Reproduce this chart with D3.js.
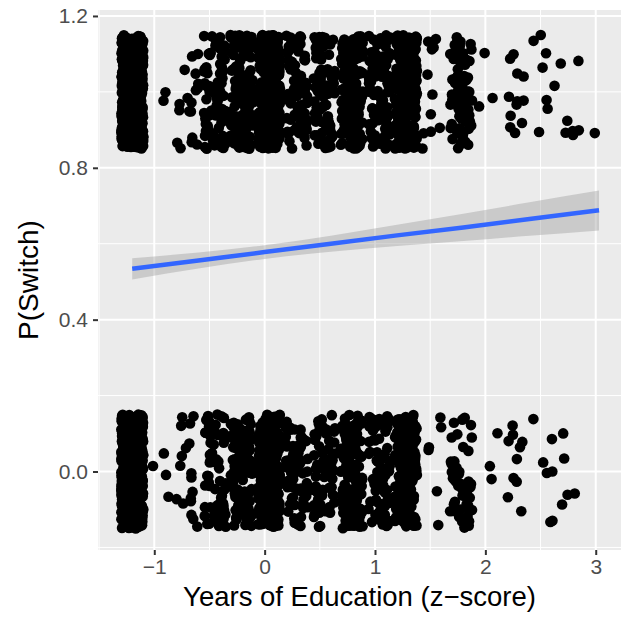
<!DOCTYPE html>
<html lang="en">
<head>
<meta charset="UTF-8" />
<title>P(Switch) vs Years of Education</title>
<script src="https://d3js.org/d3.v7.min.js"></script>
<style>
  html, body { margin: 0; padding: 0; background: #fff; }
  svg { display: block; font-family: "Liberation Sans", Arial, sans-serif; }
</style>
</head>
<body>
<svg width="621" height="624"></svg>
<script>
  // education levels (z-scored years of schooling, 0..17 years)
  const eduZ = [-1.20, -0.95, -0.70, -0.45, -0.21, 0.04, 0.29, 0.54, 0.79,
                1.04, 1.28, 1.53, 1.78, 2.03, 2.28, 2.53, 2.78, 3.03];
  // number of households per level that switched (1) / did not switch (0)
  const switchedCounts = [560, 2, 18, 85, 120, 290, 75, 85, 170, 95, 240, 11, 90, 3, 12, 8, 7, 1];
  const stayedCounts   = [520, 4, 18, 70, 110, 260, 70, 65, 130, 72, 155, 6, 48, 3, 10, 7, 5, 0];

  // linear fit and its 95% band
  const fitX     = [-1.20, -0.60, 0.00, 0.60, 1.20, 1.80, 2.40, 3.03];
  const fitY     = [0.534, 0.556, 0.578, 0.600, 0.622, 0.643, 0.665, 0.688];
  const fitLower = [0.506, 0.535, 0.560, 0.579, 0.594, 0.607, 0.621, 0.635];
  const fitUpper = [0.562, 0.577, 0.596, 0.621, 0.650, 0.679, 0.709, 0.740];

  const xTicks = [-1, 0, 1, 2, 3];
  const yTicks = [0, 0.4, 0.8, 1.2];

  const svg = d3.select("svg");
  const panel = { left: 98, right: 621, top: 10, bottom: 550 };

  const x = d3.scaleLinear().domain([-1.51, 3.229]).range([panel.left, panel.right]);
  const y = d3.scaleLinear().domain([-0.2068, 1.2157]).range([panel.bottom, panel.top]);

  // panel background
  svg.append("rect")
    .attr("x", panel.left).attr("y", panel.top)
    .attr("width", panel.right - panel.left).attr("height", panel.bottom - panel.top)
    .attr("fill", "#EBEBEB");

  const grid = svg.append("g");
  const xMinor = [-1.5, -0.5, 0.5, 1.5, 2.5];
  const yMinor = [-0.2, 0.2, 0.6, 1.0];
  grid.selectAll(".xminor").data(xMinor).join("line")
    .attr("x1", d => x(d)).attr("x2", d => x(d))
    .attr("y1", panel.top).attr("y2", panel.bottom)
    .attr("stroke", "#fff").attr("stroke-width", 1);
  grid.selectAll(".yminor").data(yMinor).join("line")
    .attr("y1", d => y(d)).attr("y2", d => y(d))
    .attr("x1", panel.left).attr("x2", panel.right)
    .attr("stroke", "#fff").attr("stroke-width", 1);
  grid.selectAll(".xmajor").data(xTicks).join("line")
    .attr("x1", d => x(d)).attr("x2", d => x(d))
    .attr("y1", panel.top).attr("y2", panel.bottom)
    .attr("stroke", "#fff").attr("stroke-width", 2);
  grid.selectAll(".ymajor").data(yTicks).join("line")
    .attr("y1", d => y(d)).attr("y2", d => y(d))
    .attr("x1", panel.left).attr("x2", panel.right)
    .attr("stroke", "#fff").attr("stroke-width", 2);

  // expand counts into observations, then jitter like geom_jitter (seeded)
  const obs = [];
  eduZ.forEach((z, i) => {
    for (let k = 0; k < stayedCounts[i]; k++) obs.push({ x: z, y: 0 });
    for (let k = 0; k < switchedCounts[i]; k++) obs.push({ x: z, y: 1 });
  });
  const rng = d3.randomLcg(0.4217);
  const jx = d3.randomUniform.source(rng)(-0.1, 0.1);
  const jy = d3.randomUniform.source(rng)(-0.15, 0.15);
  obs.forEach(d => { d.jx = d.x + jx(); d.jy = d.y + jy(); });

  svg.append("g").selectAll("circle").data(obs).join("circle")
    .attr("cx", d => x(d.jx))
    .attr("cy", d => y(d.jy))
    .attr("r", 5.3)
    .attr("fill", "#000");

  // smoother band + line
  const fit = fitX.map((v, i) => ({ x: v, y: fitY[i], lo: fitLower[i], hi: fitUpper[i] }));
  svg.append("path").datum(fit)
    .attr("d", d3.area().x(d => x(d.x)).y0(d => y(d.lo)).y1(d => y(d.hi)).curve(d3.curveMonotoneX))
    .attr("fill", "#999999").attr("fill-opacity", 0.4);
  svg.append("path").datum(fit)
    .attr("d", d3.line().x(d => x(d.x)).y(d => y(d.y)))
    .attr("fill", "none").attr("stroke", "#3366FF").attr("stroke-width", 4.5);

  // axes
  const xAxis = svg.append("g")
    .attr("transform", `translate(0,${panel.bottom})`)
    .call(d3.axisBottom(x).tickValues(xTicks).tickSize(5).tickPadding(4)
      .tickFormat(d => d < 0 ? "\u2212" + Math.abs(d) : d));
  xAxis.select(".domain").remove();
  xAxis.selectAll("line").attr("stroke", "#333").attr("stroke-width", 2);
  xAxis.selectAll("text").attr("fill", "#4D4D4D").attr("font-size", 21);

  const yAxis = svg.append("g")
    .attr("transform", `translate(${panel.left},0)`)
    .call(d3.axisLeft(y).tickValues(yTicks).tickSize(5).tickPadding(5)
      .tickFormat(d3.format(".1f")));
  yAxis.select(".domain").remove();
  yAxis.selectAll("line").attr("stroke", "#333").attr("stroke-width", 2);
  yAxis.selectAll("text").attr("fill", "#4D4D4D").attr("font-size", 21);

  svg.append("text")
    .attr("x", (panel.left + panel.right) / 2).attr("y", 606)
    .attr("text-anchor", "middle").attr("font-size", 27.5).attr("fill", "#000")
    .text("Years of Education (z\u2212score)");

  svg.append("text")
    .attr("transform", `translate(38,${(panel.top + panel.bottom) / 2}) rotate(-90)`)
    .attr("text-anchor", "middle").attr("font-size", 28).attr("fill", "#000")
    .text("P(Switch)");
</script>
</body>
</html>
